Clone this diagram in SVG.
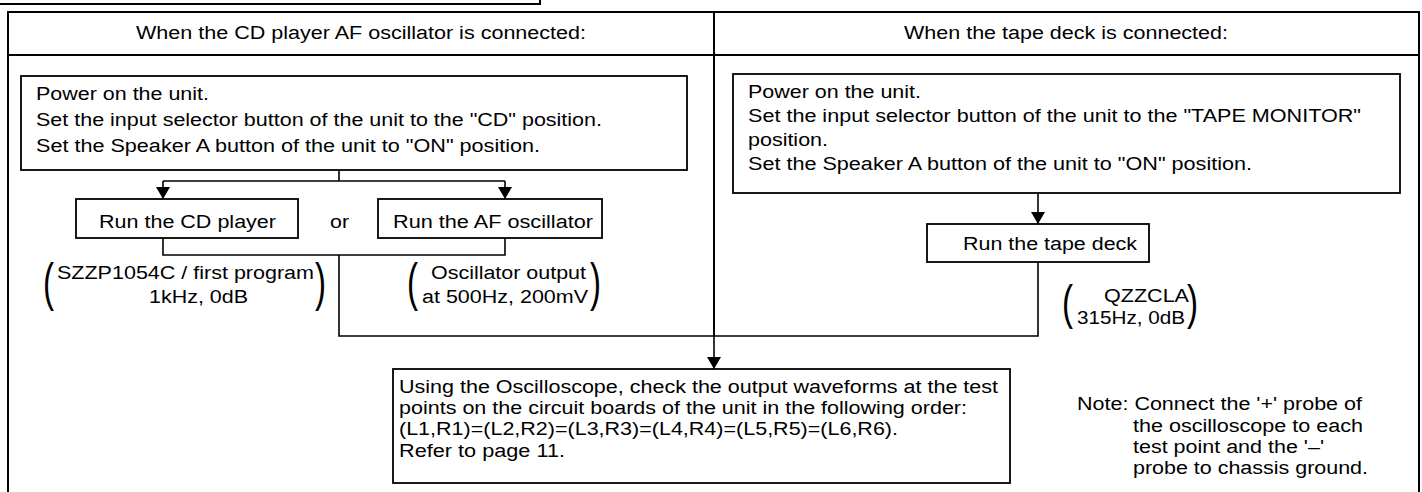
<svg xmlns="http://www.w3.org/2000/svg" width="1422" height="492" viewBox="0 0 1422 492">
<style>
text{font-family:"Liberation Sans",Arial,sans-serif;font-size:18px;fill:#000}
.box{fill:#fff;stroke:#000;stroke-width:1.8}
.frame{fill:none;stroke:#000;stroke-width:2}
.conn{fill:none;stroke:#000;stroke-width:1.6}
.par{font-size:52px}
.par2{font-size:48px}
</style>
<defs>
<marker id="ah" viewBox="0 0 12 14" refX="12" refY="7" markerWidth="12" markerHeight="14" markerUnits="userSpaceOnUse" orient="auto">
<path d="M0,0 L12,7 L0,14 z" fill="#000"/>
</marker>
</defs>
<rect width="1422" height="492" fill="#fff"/>
<g id="frame">
<path class="frame" d="M0,4 H540 V0"/>
<path class="frame" d="M8,492 V12 H1419 V492"/>
<path class="frame" d="M8,55 H1419"/>
<path class="frame" d="M714,12 V336"/>
<text x="136" y="39" textLength="450" lengthAdjust="spacingAndGlyphs">When the CD player AF oscillator is connected:</text>
<text x="904" y="39" textLength="324" lengthAdjust="spacingAndGlyphs">When the tape deck is connected:</text>
</g>
<g id="connectors">
<path class="conn" d="M339,170 V181 M163,181 H505"/>
<path class="conn" d="M163,181 V199" marker-end="url(#ah)"/>
<path class="conn" d="M505,181 V199" marker-end="url(#ah)"/>
<path class="conn" d="M163,238 V255 H505 V238 M339,255 V336 H1038 V262"/>
<path class="conn" d="M1038,193 V224" marker-end="url(#ah)"/>
<path class="conn" d="M714,336 V369" marker-end="url(#ah)"/>
</g>
<g id="node-power-left">
<rect class="box" x="21" y="76" width="666" height="94"/>
<text x="36" y="100" textLength="173" lengthAdjust="spacingAndGlyphs">Power on the unit.</text>
<text x="36" y="126" textLength="566" lengthAdjust="spacingAndGlyphs">Set the input selector button of the unit to the "CD" position.</text>
<text x="36" y="152" textLength="504" lengthAdjust="spacingAndGlyphs">Set the Speaker A button of the unit to "ON" position.</text>
</g>
<g id="node-cd">
<rect class="box" x="76" y="199" width="222" height="39"/>
<text x="99" y="228" textLength="177" lengthAdjust="spacingAndGlyphs">Run the CD player</text>
</g>
<g id="label-or">
<text x="330" y="228" textLength="19" lengthAdjust="spacingAndGlyphs">or</text>
</g>
<g id="node-af">
<rect class="box" x="378" y="199" width="224" height="39"/>
<text x="393" y="228" textLength="200" lengthAdjust="spacingAndGlyphs">Run the AF oscillator</text>
</g>
<g id="note-cd">
<text class="par" x="43" y="300" textLength="11" lengthAdjust="spacingAndGlyphs">(</text>
<text x="57" y="279" textLength="257" lengthAdjust="spacingAndGlyphs">SZZP1054C / first program</text>
<text x="149" y="303" textLength="99" lengthAdjust="spacingAndGlyphs">1kHz, 0dB</text>
<text class="par" x="315" y="300" textLength="11" lengthAdjust="spacingAndGlyphs">)</text>
</g>
<g id="note-af">
<text class="par" x="407" y="300" textLength="11" lengthAdjust="spacingAndGlyphs">(</text>
<text x="431" y="279" textLength="155" lengthAdjust="spacingAndGlyphs">Oscillator output</text>
<text x="422" y="303" textLength="166" lengthAdjust="spacingAndGlyphs">at 500Hz, 200mV</text>
<text class="par" x="590" y="300" textLength="11" lengthAdjust="spacingAndGlyphs">)</text>
</g>
<g id="node-power-right">
<rect class="box" x="733" y="74" width="667" height="119"/>
<text x="748" y="98" textLength="173" lengthAdjust="spacingAndGlyphs">Power on the unit.</text>
<text x="748" y="122" textLength="613" lengthAdjust="spacingAndGlyphs">Set the input selector button of the unit to the "TAPE MONITOR"</text>
<text x="748" y="146" textLength="80" lengthAdjust="spacingAndGlyphs">position.</text>
<text x="748" y="170" textLength="504" lengthAdjust="spacingAndGlyphs">Set the Speaker A button of the unit to "ON" position.</text>
</g>
<g id="node-tape">
<rect class="box" x="927" y="224" width="222" height="38"/>
<text x="963" y="250" textLength="174" lengthAdjust="spacingAndGlyphs">Run the tape deck</text>
</g>
<g id="note-tape">
<text class="par2" x="1062" y="319" textLength="11" lengthAdjust="spacingAndGlyphs">(</text>
<text x="1104" y="302" textLength="85" lengthAdjust="spacingAndGlyphs">QZZCLA</text>
<text x="1077" y="324" textLength="108" lengthAdjust="spacingAndGlyphs">315Hz, 0dB</text>
<text class="par2" x="1187" y="319" textLength="11" lengthAdjust="spacingAndGlyphs">)</text>
</g>
<g id="node-oscilloscope">
<rect class="box" x="393" y="369" width="617" height="114"/>
<text x="399" y="393" textLength="599" lengthAdjust="spacingAndGlyphs">Using the Oscilloscope, check the output waveforms at the test</text>
<text x="399" y="414" textLength="568" lengthAdjust="spacingAndGlyphs">points on the circuit boards of the unit in the following order:</text>
<text x="399" y="435" textLength="499" lengthAdjust="spacingAndGlyphs">(L1,R1)=(L2,R2)=(L3,R3)=(L4,R4)=(L5,R5)=(L6,R6).</text>
<text x="399" y="457" textLength="166" lengthAdjust="spacingAndGlyphs">Refer to page 11.</text>
</g>
<g id="note-probe">
<text x="1077" y="410" textLength="285" lengthAdjust="spacingAndGlyphs">Note: Connect the '+' probe of</text>
<text x="1133" y="432" textLength="230" lengthAdjust="spacingAndGlyphs">the oscilloscope to each</text>
<text x="1133" y="453" textLength="191" lengthAdjust="spacingAndGlyphs">test point and the '–'</text>
<text x="1133" y="474" textLength="235" lengthAdjust="spacingAndGlyphs">probe to chassis ground.</text>
</g>
</svg>
